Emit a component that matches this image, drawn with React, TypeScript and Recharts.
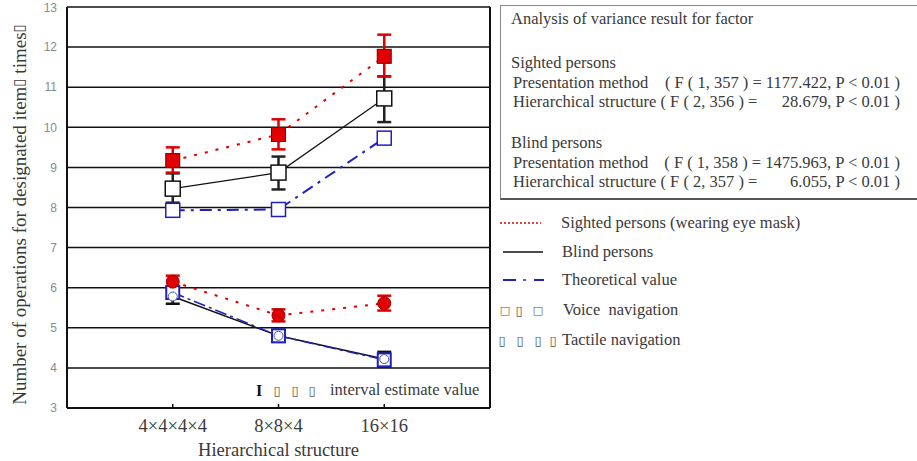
import React from 'react';
import { ComposedChart, Line, XAxis, YAxis, CartesianGrid, ErrorBar, ReferenceLine } from 'recharts';

const categories = ['4×4×4×4', '8×8×4', '16×16'];
const xPositions = [1, 2, 3];
const yTicks = [3, 4, 5, 6, 7, 8, 9, 10, 11, 12, 13];

// Voice navigation (upper group, squares)
const sightedVoice = [9.17, 9.82, 11.77];
const sightedVoiceLow = [8.87, 9.45, 11.27];
const sightedVoiceHigh = [9.5, 10.2, 12.31];
const blindVoice = [8.47, 8.87, 10.72];
const blindVoiceLow = [8.12, 8.45, 10.13];
const blindVoiceHigh = [8.85, 9.27, 11.27];
const theoryVoice = [7.93, 7.95, 9.73];

// Tactile navigation (lower group, circles)
const sightedTactile = [6.15, 5.31, 5.61];
const sightedTactileLow = [6.0, 5.16, 5.43];
const sightedTactileHigh = [6.3, 5.46, 5.8];
const blindTactile = [5.78, 4.8, 4.22];
const blindTactileLow = [5.6, 4.65, 4.03];
const blindTactileHigh = [5.95, 4.95, 4.4];
const theoryTactile = [5.88, 4.8, 4.2];

const data = xPositions.map((x, i) => ({
  x,
  sv: sightedVoice[i],
  svErr: [sightedVoice[i] - sightedVoiceLow[i], sightedVoiceHigh[i] - sightedVoice[i]],
  bv: blindVoice[i],
  bvErr: [blindVoice[i] - blindVoiceLow[i], blindVoiceHigh[i] - blindVoice[i]],
  tv: theoryVoice[i],
  st: sightedTactile[i],
  stErr: [sightedTactile[i] - sightedTactileLow[i], sightedTactileHigh[i] - sightedTactile[i]],
  bt: blindTactile[i],
  btErr: [blindTactile[i] - blindTactileLow[i], blindTactileHigh[i] - blindTactile[i]],
  tt: theoryTactile[i],
}));

const RED = '#e00000';
const BLUE = '#2020c0';
const TEXT = '#3a3a3a';
const serif = "'Liberation Serif', 'Times New Roman', serif";
const TOFU = '\u25AF';

const square = (fill: string, stroke: string, size: number, sw: number) => (props: any) => {
  const { cx, cy, index } = props;
  if (cx == null || cy == null) return <g key={index} />;
  return (
    <rect key={index} x={cx - size / 2} y={cy - size / 2} width={size} height={size}
      fill={fill} stroke={stroke} strokeWidth={sw} />
  );
};
const circle = (fill: string, stroke: string, r: number, sw: number) => (props: any) => {
  const { cx, cy, index } = props;
  if (cx == null || cy == null) return <g key={index} />;
  return <circle key={index} cx={cx} cy={cy} r={r} fill={fill} stroke={stroke} strokeWidth={sw} />;
};

const yLabel = (props: any) => {
  const vb = props.viewBox || { x: 0, y: 0, width: 67, height: 400 };
  const cx = vb.x + 19;
  const cy = vb.y + vb.height / 2 + 7;
  return (
    <text x={cx} y={cy} transform={`rotate(-90 ${cx} ${cy})`} textAnchor="middle"
      dominantBaseline="central" fontFamily={serif} fontSize={19} fill={TEXT}>
      Number of operations for designated item<tspan fontFamily="'DejaVu Sans'" fontSize={15}>{TOFU}</tspan> times<tspan fontFamily="'DejaVu Sans'" fontSize={15}>{TOFU}</tspan>
    </text>
  );
};

const Txt: React.FC<{ x: number; y: number; size?: number; children: React.ReactNode; right?: boolean }> = ({ x, y, size = 16.5, children, right }) => (
  <div style={{
    position: 'absolute', left: right ? undefined : x, right: right ? 917 - x : undefined, top: y - size * 0.6,
    fontFamily: serif, fontSize: size, color: TEXT, whiteSpace: 'pre', lineHeight: `${size * 1.2}px`,
  }}>{children}</div>
);

const Glyph: React.FC<{ x: number; y: number; ch: string; size?: number }> = ({ x, y, ch, size = 13 }) => (
  <text x={x} y={y} textAnchor="middle" dominantBaseline="central" fontFamily="'DejaVu Sans'" fontSize={size} fill="#555">{ch}</text>
);

export default function App() {
  return (
    <div style={{ position: 'absolute', left: 0, top: 0, width: 917, height: 461, background: '#fff', overflow: 'hidden' }}>
      <ComposedChart width={917} height={461} data={data}
        margin={{ top: 7, right: 427, bottom: 0, left: 0 }}>
        <CartesianGrid vertical={false} stroke="#111" strokeWidth={1.5} />
        <XAxis dataKey="x" type="number" domain={[0, 4]} ticks={xPositions} height={53}
          tickFormatter={(v: number) => categories[v - 1] ?? ''}
          axisLine={{ stroke: '#111', strokeWidth: 2 }} tickLine={false} tickSize={0} tickMargin={11}
          tick={{ fontFamily: serif, fontSize: 18.5, fill: TEXT }}
          label={{ value: 'Hierarchical structure', position: 'insideBottom', offset: 5, fontFamily: serif, fontSize: 18.5, fill: TEXT }} />
        <YAxis type="number" domain={[3, 13]} ticks={yTicks} width={67}
          axisLine={{ stroke: '#111', strokeWidth: 2 }} tickLine={false} tickSize={0} tickMargin={10}
          tick={{ fontFamily: "'Liberation Sans', Arial, sans-serif", fontSize: 12, fill: '#8a8a8a' }}
          label={yLabel} />
        <ReferenceLine x={4} stroke="#111" strokeWidth={2} />
        {xPositions.map((x) => (
          <ReferenceLine key={`t${x}`} segment={[{ x, y: 3 }, { x, y: 3.1 }]} stroke="#111" strokeWidth={1.5} />
        ))}

        <Line dataKey="tv" stroke={BLUE} strokeWidth={2} strokeDasharray="12 6 3 6" isAnimationActive={false}
          dot={square('#fff', BLUE, 14, 1.5)} activeDot={false} />
        <Line dataKey="bv" stroke="#111" strokeWidth={1.2} isAnimationActive={false}
          dot={square('#fff', '#111', 15, 1.5)} activeDot={false}>
          <ErrorBar dataKey="bvErr" direction="y" width={7} stroke="#222" strokeWidth={2.5} />
        </Line>
        <Line dataKey="sv" stroke={RED} strokeWidth={2} strokeDasharray="3 8" isAnimationActive={false}
          dot={square(RED, '#700', 14, 1)} activeDot={false}>
          <ErrorBar dataKey="svErr" direction="y" width={7} stroke={RED} strokeWidth={2.5} />
        </Line>

        <Line dataKey="bt" stroke="#111" strokeWidth={1.5} isAnimationActive={false}
          dot={false} activeDot={false}>
          <ErrorBar dataKey="btErr" direction="y" width={7} stroke="#111" strokeWidth={2.5} />
        </Line>
        <Line dataKey="tt" stroke={BLUE} strokeWidth={1.5} strokeDasharray="12 4 3 4" isAnimationActive={false}
          dot={square('#fff', BLUE, 13, 2)} activeDot={false} />
        <Line dataKey="bt" stroke="none" isAnimationActive={false}
          dot={circle('#fff', '#4a5a9a', 4.5, 1)} activeDot={false} legendType="none" />
        <Line dataKey="st" stroke={RED} strokeWidth={2} strokeDasharray="3 8" isAnimationActive={false}
          dot={circle(RED, '#900', 6.5, 1)} activeDot={false}>
          <ErrorBar dataKey="stErr" direction="y" width={7} stroke={RED} strokeWidth={2.5} />
        </Line>
      </ComposedChart>

      {/* ANOVA box */}
      <div style={{ position: 'absolute', left: 500, top: 5, width: 430, height: 195,
        border: '1px solid #888', borderBottom: '2px solid #555', boxSizing: 'border-box' }} />
      <Txt x={511} y={19}>Analysis of variance result for factor</Txt>
      <Txt x={511} y={63}>Sighted persons</Txt>
      <Txt x={513} y={83}>Presentation method</Txt>
      <Txt x={900} y={83} right>{'( F ( 1, 357 ) = 1177.422, P < 0.01 )'}</Txt>
      <Txt x={513} y={102}>{'Hierarchical structure ( F ( 2, 356 ) ='}</Txt>
      <Txt x={900} y={102} right>{'28.679, P < 0.01 )'}</Txt>
      <Txt x={511} y={143}>Blind persons</Txt>
      <Txt x={513} y={163}>Presentation method</Txt>
      <Txt x={900} y={163} right>{'( F ( 1, 358 ) = 1475.963, P < 0.01 )'}</Txt>
      <Txt x={513} y={182}>{'Hierarchical structure ( F ( 2, 357 ) ='}</Txt>
      <Txt x={900} y={182} right>{'6.055, P < 0.01 )'}</Txt>

      {/* legend samples and glyphs */}
      <svg style={{ position: 'absolute', left: 0, top: 0 }} width={917} height={461} pointerEvents="none">
        <line x1={500} y1={223} x2={541} y2={223} stroke={RED} strokeWidth={1.5} strokeDasharray="2 2" />
        <line x1={503} y1={252} x2={543} y2={252} stroke="#111" strokeWidth={1.5} />
        <line x1={503} y1={280} x2={516} y2={280} stroke={BLUE} strokeWidth={2} />
        <line x1={523} y1={280} x2={526} y2={280} stroke={BLUE} strokeWidth={1.5} />
        <line x1={534} y1={280} x2={544} y2={280} stroke={BLUE} strokeWidth={2} />
        <Glyph x={505} y={310} ch={'\u25A1'} size={11} />
        <Glyph x={519} y={310} ch={TOFU} />
        <Glyph x={538} y={310} ch={'\u25A1'} size={11} />
        <Glyph x={502} y={340} ch={TOFU} />
        <Glyph x={520} y={340} ch={TOFU} />
        <Glyph x={538} y={340} ch={TOFU} />
        <Glyph x={553} y={340} ch={TOFU} />
        <text x={259} y={390} textAnchor="middle" dominantBaseline="central" fontFamily={serif} fontWeight="bold" fontSize={16} fill="#111">I</text>
        <Glyph x={277} y={390} ch={TOFU} />
        <Glyph x={295} y={390} ch={TOFU} />
        <Glyph x={312} y={390} ch={TOFU} />
      </svg>
      <Txt x={330} y={390}>interval estimate value</Txt>
      <Txt x={561} y={223}>Sighted persons (wearing eye mask)</Txt>
      <Txt x={562} y={252}>Blind persons</Txt>
      <Txt x={562} y={280}>Theoretical value</Txt>
      <Txt x={563} y={310}>{'Voice  navigation'}</Txt>
      <Txt x={562} y={340}>Tactile navigation</Txt>
    </div>
  );
}
